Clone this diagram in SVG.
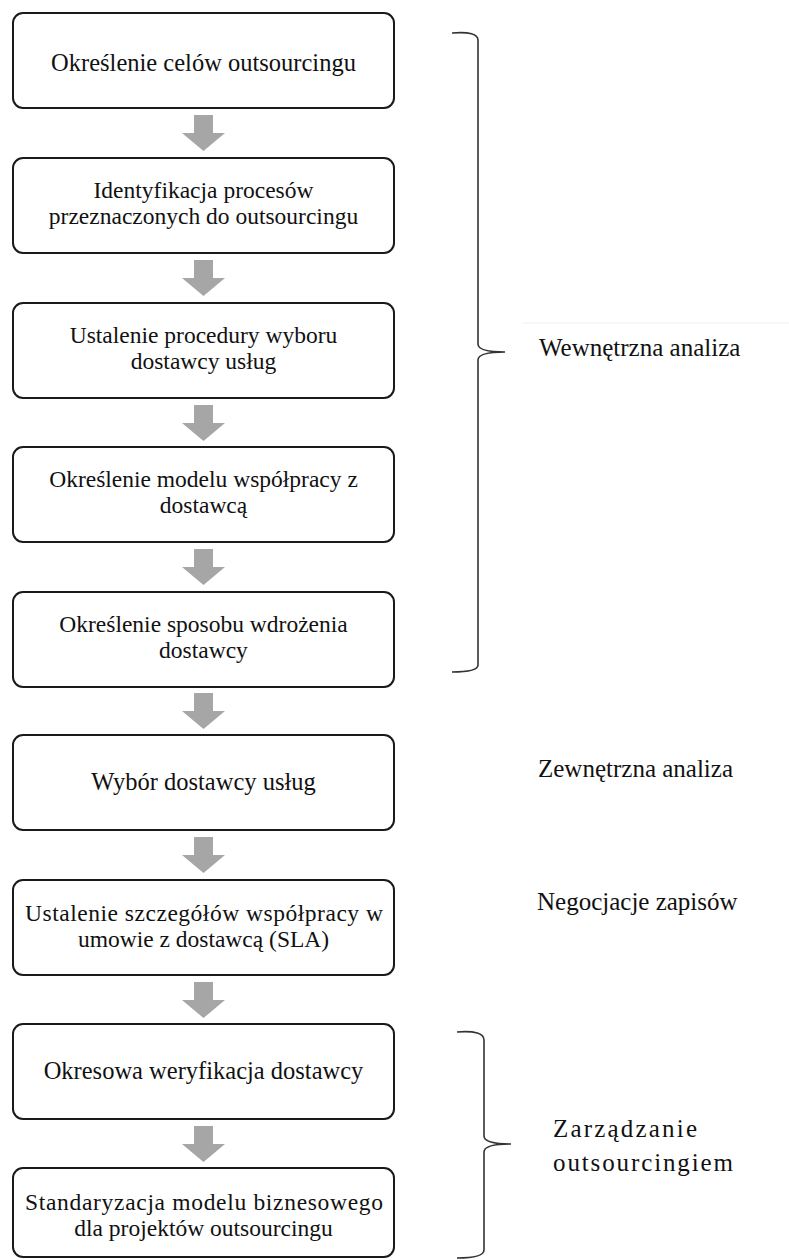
<svg xmlns="http://www.w3.org/2000/svg" width="789" height="1260" viewBox="0 0 789 1260">
<style>
.box{fill:#ffffff;stroke:#1a1a1a;stroke-width:2}
.t{font-family:"Liberation Serif","Times New Roman",serif;font-size:24.5px;fill:#111111;text-anchor:middle}
.t2{font-family:"Liberation Serif","Times New Roman",serif;font-size:23.5px;fill:#111111;text-anchor:middle}
.l{font-family:"Liberation Serif","Times New Roman",serif;font-size:25px;fill:#111111}
.arr{fill:#a6a6a6}
.brace{fill:none;stroke:#333333;stroke-width:1.6}
</style>
<defs>
<path id="arrowShape" d="M194,0 L213,0 L213,18 L225,18 L203.5,36 L182,18 L194,18 Z"/>
</defs>
<rect width="789" height="1260" fill="#ffffff"/>
<g id="connectors">
<use href="#arrowShape" class="arr" transform="translate(0,115)"/>
<use href="#arrowShape" class="arr" transform="translate(0,260)"/>
<use href="#arrowShape" class="arr" transform="translate(0,405)"/>
<use href="#arrowShape" class="arr" transform="translate(0,549)"/>
<use href="#arrowShape" class="arr" transform="translate(0,693)"/>
<use href="#arrowShape" class="arr" transform="translate(0,837)"/>
<use href="#arrowShape" class="arr" transform="translate(0,982)"/>
<use href="#arrowShape" class="arr" transform="translate(0,1126)"/>
</g>
<g id="n1"><rect class="box" x="13" y="13" width="381" height="95" rx="10"/><text class="t" x="203.5" y="71">Określenie celów outsourcingu</text></g>
<g id="n2"><rect class="box" x="13" y="158" width="381" height="95" rx="10"/><text class="t2" x="203.5" y="198">Identyfikacja procesów</text><text class="t2" x="203.5" y="224">przeznaczonych do outsourcingu</text></g>
<g id="n3"><rect class="box" x="13" y="303" width="381" height="95" rx="10"/><text class="t2" x="203.5" y="343">Ustalenie procedury wyboru</text><text class="t2" x="203.5" y="369">dostawcy usług</text></g>
<g id="n4"><rect class="box" x="13" y="447" width="381" height="95" rx="10"/><text class="t2" x="203.5" y="487">Określenie modelu współpracy z</text><text class="t2" x="203.5" y="513">dostawcą</text></g>
<g id="n5"><rect class="box" x="13" y="592" width="381" height="95" rx="10"/><text class="t2" x="203.5" y="632">Określenie sposobu wdrożenia</text><text class="t2" x="203.5" y="658">dostawcy</text></g>
<g id="n6"><rect class="box" x="13" y="735" width="381" height="95" rx="10"/><text class="t" x="203.5" y="790">Wybór dostawcy usług</text></g>
<g id="n7"><rect class="box" x="13" y="880" width="381" height="95" rx="10"/><text class="t2" x="25" y="921" style="text-anchor:start" textLength="358" lengthAdjust="spacing">Ustalenie szczegółów współpracy w</text><text class="t2" x="203.5" y="947">umowie z dostawcą (SLA)</text></g>
<g id="n8"><rect class="box" x="13" y="1024" width="381" height="95" rx="10"/><text class="t" x="203.5" y="1079">Okresowa weryfikacja dostawcy</text></g>
<g id="n9"><rect class="box" x="13" y="1168" width="381" height="89" rx="10"/><text class="t2" x="25" y="1210" style="text-anchor:start" textLength="358" lengthAdjust="spacing">Standaryzacja modelu biznesowego</text><text class="t2" x="203.5" y="1236">dla projektów outsourcingu</text></g>
<g id="brace1">
<path class="brace" d="M452,33 Q478,31 478,40 L478,344 Q478,352 505,352 Q478,352 478,360 L478,665 Q478,672 452,672"/>
<line x1="523" y1="323" x2="789" y2="323" stroke="#efefef" stroke-width="1"/>
<text class="l" x="539" y="356">Wewnętrzna analiza</text>
</g>
<g id="label-external"><text class="l" x="538" y="777">Zewnętrzna analiza</text></g>
<g id="label-negotiation"><text class="l" x="537" y="910">Negocjacje zapisów</text></g>
<g id="brace2">
<path class="brace" d="M457,1032 Q484,1030 484,1040 L484,1136 Q484,1144 511,1144 Q484,1144 484,1152 L484,1250 Q484,1258 457,1258"/>
<text class="l" x="553" y="1137" textLength="144" lengthAdjust="spacing">Zarządzanie</text>
<text class="l" x="553" y="1171" textLength="180" lengthAdjust="spacing">outsourcingiem</text>
</g>
</svg>
